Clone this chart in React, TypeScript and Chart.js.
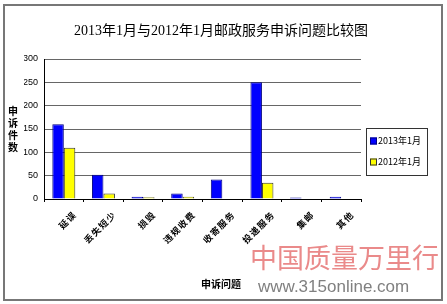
import React, { useEffect, useRef } from "react";
import { Chart, registerables } from "chart.js";
Chart.register(...registerables);

const categories = ["延误", "丢失短少", "损毁", "违规收费", "收寄服务", "投递服务", "集邮", "其他"];
const series2013 = [160, 52, 5, 12, 42, 250, 3, 5];
const series2012 = [110, 12, 4, 5, 0, 35, 0, 0];
const seriesNames = ["2013年1月", "2012年1月"];
const seriesColors = ["#0000ff", "#ffff00"];
const seriesBorders = ["#000080", "#333333"];
const yMin = 0;
const yMax = 300;
const yStep = 50;
const chartTitle = "2013年1月与2012年1月邮政服务申诉问题比较图";
const yTitle = "申诉件数";
const xTitle = "申诉问题";

const CJK = '"Noto Sans CJK SC", sans-serif';

const overlay = {
  id: "overlay",
  afterDraw(chart: any) {
    const ctx = chart.ctx;
    const xs = chart.scales.x;
    ctx.save();
    ctx.fillStyle = "#000";
    ctx.textBaseline = "middle";
    // title
    ctx.textAlign = "center";
    ctx.font = '14px "Liberation Serif", "Noto Sans CJK SC", serif';
    ctx.fillText(chartTitle, 221, 31);
    // y title stacked
    ctx.font = "bold 10px " + CJK;
    const chars = Array.from(yTitle);
    chars.forEach((c, i) => ctx.fillText(c, 13, 111 + i * 12));
    // x title
    ctx.fillText(xTitle, 221, 284);
    // diagonal category labels, character by character
    ctx.font = "bold 9px " + CJK;
    ctx.textAlign = "center";
    categories.forEach((c, i) => {
      const px = xs.getPixelForValue(i);
      const cs = Array.from(c);
      const n = cs.length;
      cs.forEach((ch, k) => {
        const back = n - 1 - k;
        ctx.save();
        ctx.translate(px + 7 - back * 7.2, xs.top + 18 + back * 7.2);
        ctx.rotate(-Math.PI / 4);
        ctx.fillText(ch, 0, 0);
        ctx.restore();
      });
    });
    // legend
    ctx.strokeStyle = "#333";
    ctx.lineWidth = 1;
    ctx.strokeRect(366.5, 128.5, 61, 47);
    ctx.textAlign = "left";
    ctx.font = '9px "Liberation Sans Narrow", "Noto Sans CJK SC", sans-serif';
    seriesNames.forEach((n, i) => {
      const y = 141 + i * 21;
      ctx.fillStyle = seriesColors[i];
      ctx.fillRect(370, y - 3.5, 7, 7);
      ctx.strokeStyle = seriesBorders[i];
      ctx.strokeRect(370.5, y - 3, 6, 6);
      ctx.fillStyle = "#000";
      ctx.fillText(n, 378, y);
    });
    ctx.restore();
  },
};

export default function App() {
  const ref = useRef<HTMLCanvasElement>(null);
  useEffect(() => {
    const chart = new Chart(ref.current!, {
      type: "bar",
      data: {
        labels: categories,
        datasets: [
          {
            label: seriesNames[0],
            data: series2013,
            backgroundColor: seriesColors[0],
            borderColor: seriesBorders[0],
            borderWidth: 1,
            barPercentage: 1,
            categoryPercentage: 0.58,
          },
          {
            label: seriesNames[1],
            data: series2012,
            backgroundColor: seriesColors[1],
            borderColor: seriesBorders[1],
            borderWidth: 1,
            barPercentage: 1,
            categoryPercentage: 0.58,
          },
        ],
      },
      options: {
        responsive: false,
        animation: false,
        layout: { padding: { left: 24, right: 86, top: 59, bottom: 0 } },
        plugins: { legend: { display: false }, title: { display: false }, tooltip: { enabled: false } },
        scales: {
          x: {
            grid: { display: true, drawOnChartArea: false, tickLength: 3, color: "#000" },
            border: { color: "#000", width: 1 },
            ticks: { display: false },
            afterFit(scale: any) {
              scale.height = 105;
            },
          },
          y: {
            min: yMin,
            max: yMax,
            ticks: {
              stepSize: yStep,
              padding: 6,
              color: "#000",
              font: { family: '"Liberation Sans", sans-serif', size: 9 },
            },
            grid: { color: "#666", drawTicks: false, lineWidth: 1 },
            border: { color: "#000", width: 1 },
            afterFit(scale: any) {
              scale.width = 20;
            },
          },
        },
      },
      plugins: [overlay],
    });
    return () => chart.destroy();
  }, []);
  return (
    <div style={{ position: "fixed", left: 0, top: 0, width: 447, height: 304, background: "#fff" }}>
      <canvas ref={ref} width={447} height={304} style={{ display: "block" }} />
      <div
        style={{
          position: "absolute",
          left: 3,
          top: 4,
          width: 440,
          height: 297,
          boxSizing: "border-box",
          border: "2px solid #777",
          pointerEvents: "none",
        }}
      />
      <div
        style={{
          position: "absolute",
          left: 250,
          top: 240,
          fontFamily: '"Noto Sans CJK SC", sans-serif',
          fontSize: 27,
          color: "#ea8a8a",
          whiteSpace: "nowrap",
          lineHeight: "34px",
          pointerEvents: "none",
        }}
      >
        中国质量万里行
      </div>
      <div
        style={{
          position: "absolute",
          left: 258,
          top: 277,
          fontFamily: '"Liberation Sans", sans-serif',
          fontSize: 17,
          color: "#808080",
          whiteSpace: "nowrap",
          lineHeight: "20px",
          pointerEvents: "none",
        }}
      >
        www.315online.com
      </div>
    </div>
  );
}
